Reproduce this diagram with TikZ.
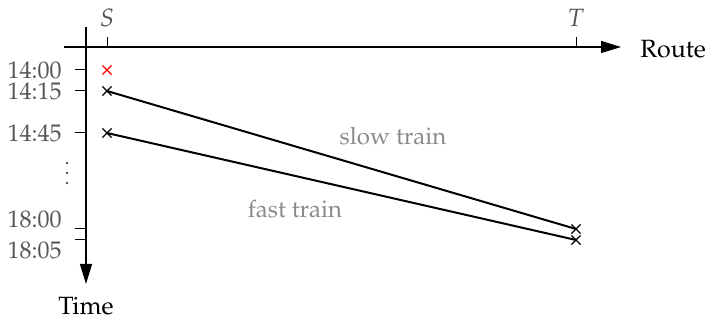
\documentclass[tikz,border=0pt]{standalone}
\usepackage[T1]{fontenc}
\usepackage{mathpazo}
\usetikzlibrary{arrows.meta,shapes.misc}
\definecolor{lbl}{HTML}{555555}
\definecolor{trainlbl}{HTML}{8A8A8A}
\tikzset{
  axis/.style={line width=0.7pt,-{Triangle[length=10pt,width=6pt]}},
  tickmark/.style={line width=0.5pt},
  xmark/.style={cross out,draw,line width=0.6pt,minimum size=4pt,inner sep=0pt},
  trainline/.style={line width=1pt},
  ticklbl/.style={text=lbl,font=\fontsize{12}{14}\selectfont,inner sep=1pt},
  trainlbl/.style={text=trainlbl,font=\fontsize{12}{14}\selectfont},
  axislbl/.style={font=\fontsize{12.5}{14}\selectfont},
  dot/.style={circle,fill=lbl,inner sep=0pt,minimum size=1.4pt}
}
\begin{document}
\begin{tikzpicture}[x=0.5pt,y=-0.5pt]
\useasboundingbox (0,0) rectangle (712,320);
% axes
\coordinate (hstart) at (64,47);
\coordinate (hend) at (621,47);
\coordinate (vstart) at (86,27);
\coordinate (vend) at (86,284);
\draw[axis] (hstart) -- (hend);
\draw[axis] (vstart) -- (vend);
\node[axislbl,anchor=west,inner sep=0pt] (route) at (640,49) {Route};
\node[axislbl] (time) at (86,306) {Time};
% route ticks
\coordinate (sb) at (107,47); \coordinate (st) at (107,37);
\coordinate (tb) at (576,47); \coordinate (tt) at (576,37);
\draw[tickmark] (sb) -- (st);
\draw[tickmark] (tb) -- (tt);
\node[text=lbl,font=\fontsize{12.5}{14}\selectfont] (S) at (107,18) {$S$};
\node[text=lbl,font=\fontsize{12.5}{14}\selectfont] (T) at (576,18) {$T$};
% time ticks
\foreach \n/\y in {a/70,b/91,c/133,d/229,e/240}{
  \coordinate (t\n l) at (75,\y);
  \coordinate (t\n r) at (86,\y);
  \draw[tickmark] (t\n l) -- (t\n r);
}
\node[ticklbl,anchor=east] (l1400) at (64,70) {14:00};
\node[ticklbl,anchor=east] (l1415) at (64,91) {14:15};
\node[ticklbl,anchor=east] (l1445) at (64,133) {14:45};
\node[ticklbl,anchor=east] (l1800) at (64,219) {18:00};
\node[ticklbl,anchor=east] (l1805) at (64,250) {18:05};
\node[dot] (d1) at (67,163) {};
\node[dot] (d2) at (67,173) {};
\node[dot] (d3) at (67,183) {};
% crosses
\node[xmark,red] (x0) at (107,70) {};
\node[xmark] (s1) at (107,91) {};
\node[xmark] (f1) at (107,133) {};
\node[xmark] (s2) at (576,229) {};
\node[xmark] (f2) at (576,240) {};
% trains
\draw[trainline] (s1.center) -- (s2.center);
\draw[trainline] (f1.center) -- (f2.center);
\node[trainlbl] (slow) at (393,136) {slow train};
\node[trainlbl] (fast) at (295,209) {fast train};
\end{tikzpicture}
\end{document}
